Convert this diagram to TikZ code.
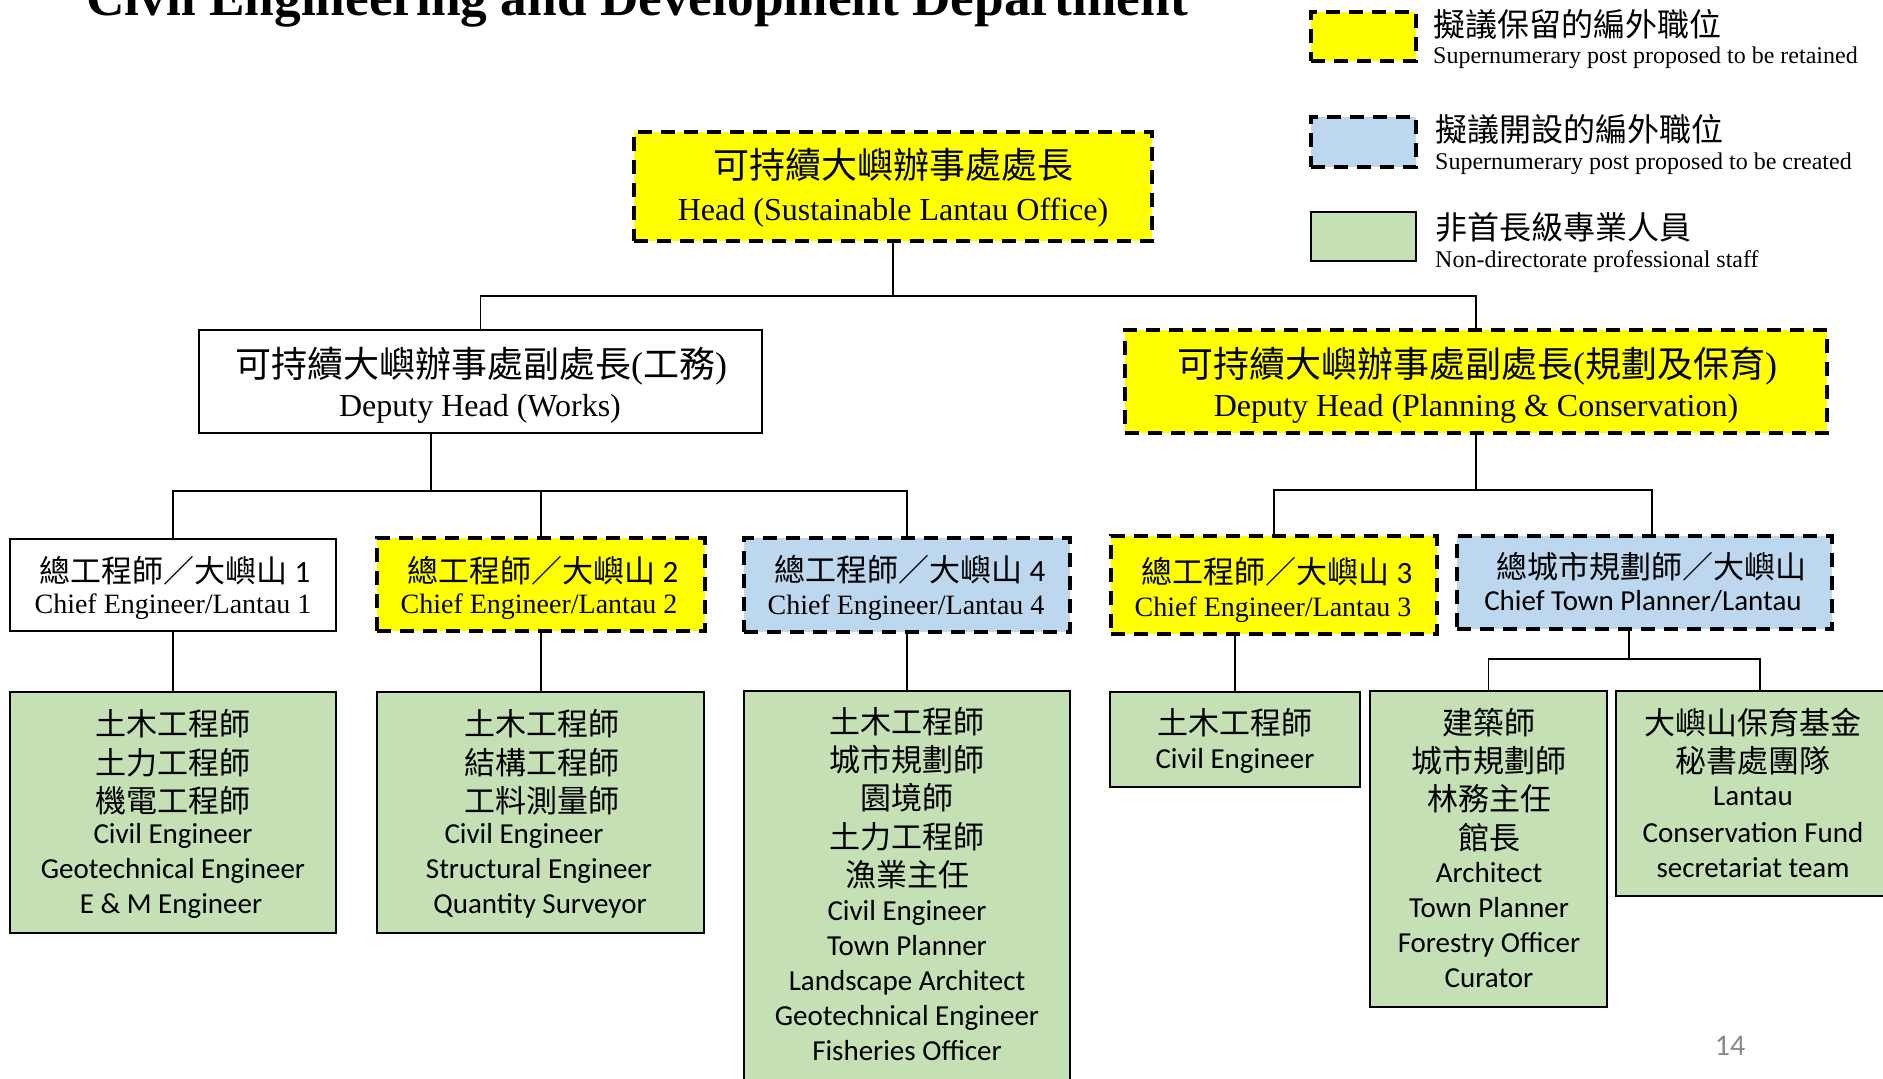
\documentclass[tikz,border=0pt]{standalone}
\usepackage{fontspec}
\setmainfont{Liberation Serif}
\newfontfamily\cjkfont{Noto Sans CJK TC}
\newfontfamily\calfont{Carlito}
\usetikzlibrary{fit}
\definecolor{yel}{RGB}{255,255,0}
\definecolor{blu}{RGB}{189,215,238}
\definecolor{grn}{RGB}{197,224,180}
\definecolor{pgnum}{RGB}{137,137,137}
\newcommand\lpar{{\rmfamily(}}
\newcommand\rpar{{\rmfamily)}}
\begin{document}
\begin{tikzpicture}[x=1pt,y=-1pt,
  box/.style={rectangle,inner sep=0pt,draw=black},
  solidbox/.style={box,line width=2pt},
  dashbox/.style={box,line width=4pt,dash pattern=on 14pt off 9pt},
  ret/.style={dashbox,fill=yel},
  cre/.style={dashbox,fill=blu},
  staff/.style={solidbox,fill=grn},
  plain/.style={solidbox,fill=white},
  txt/.style={inner sep=0pt,anchor=base},
  cjkA/.style={txt,font=\cjkfont\fontsize{36}{40}\selectfont},
  enA/.style={txt,font=\fontsize{32}{36}\selectfont},
  cjkB/.style={txt,font=\cjkfont\fontsize{31}{34}\selectfont},
  enB/.style={txt,font=\fontsize{28}{32}\selectfont},
  calB/.style={txt,font=\calfont\fontsize{29}{32}\selectfont},
  cjkL/.style={txt,anchor=base west,font=\cjkfont\fontsize{32}{36}\selectfont},
  enL/.style={txt,anchor=base west,font=\fontsize{24}{28}\selectfont},
  conn/.style={line width=1.5pt,draw=black},
]
\useasboundingbox (0,0) rectangle (1883,1079);
\clip (0,0) rectangle (1883,1079);
\fill[white] (0,0) rectangle (1883,1079);

% title
\node[txt,font=\fontsize{53.3}{60}\selectfont\bfseries] (title) at (637,15) {Civil Engineering and Development Department};

% legend
\node[ret, fit={(1311,12) (1416,61)}] (lret) {};
\node[cre, fit={(1311,117) (1416,167)}] (lcre) {};
\node[staff, fit={(1311,212) (1416,261)}] (lstaff) {};
\node[cjkL] (lret1) at (1433,36) {擬議保留的編外職位};
\node[enL] (lret2) at (1433,63) {Supernumerary post proposed to be retained};
\node[cjkL] (lcre1) at (1435,141) {擬議開設的編外職位};
\node[enL] (lcre2) at (1435,169) {Supernumerary post proposed to be created};
\node[cjkL] (lstaff1) at (1435,239) {非首長級專業人員};
\node[enL] (lstaff2) at (1435,267) {Non-directorate professional staff};

% boxes
\node[ret, fit={(634,132) (1152,241)}] (head) {};
\node[plain, fit={(199,330) (762,433)}] (dhw) {};
\node[ret, fit={(1125,330) (1827,433)}] (dhp) {};
\node[plain, fit={(10,539) (336,631)}] (ce1) {};
\node[ret, fit={(377,538) (705,631)}] (ce2) {};
\node[cre, fit={(744,538) (1070,632)}] (ce4) {};
\node[ret, fit={(1111,536) (1437,634)}] (ce3) {};
\node[cre, fit={(1457,536) (1832,629)}] (ctp) {};
\node[staff, fit={(10,692) (336,933)}] (g1) {};
\node[staff, fit={(377,692) (704,933)}] (g2) {};
\node[staff, fit={(744,691) (1070,1095)}] (g4) {};
\node[staff, fit={(1110,692) (1360,787)}] (g3) {};
\node[staff, fit={(1370,691) (1607,1007)}] (g5) {};
\node[staff, fit={(1616,691) (1892,896)}] (g6) {};

% connectors
\coordinate (j1) at (893,296);
\draw[conn] (head.south) -- (j1);
\draw[conn] (dhw.north) |- (j1) -| (dhp.north);
\coordinate (dhwb) at (431,433);
\coordinate (j2) at (431,491);
\draw[conn] (dhwb) -- (j2);
\draw[conn] (ce1.north) |- (j2) -| (ce4.north);
\draw[conn] (ce2.north) -- (ce2.north |- j2);
\draw[conn] (ce1.south) -- (g1.north);
\draw[conn] (ce2.south) -- (ce2.south |- g2.north);
\draw[conn] (ce4.south) -- (ce4.south |- g4.north);
\coordinate (j3) at (1476,490);
\draw[conn] (dhp.south) -- (j3);
\coordinate (ctpt) at (1652,536);
\draw[conn] (ce3.north) |- (j3) -| (ctpt);
\draw[conn] (g3.north) -- (g3.north |- ce3.south);
\coordinate (ctpb) at (1629,629);
\coordinate (j4) at (1629,659);
\coordinate (g6t) at (1760,691);
\draw[conn] (ctpb) -- (j4);
\draw[conn] (g5.north) |- (j4) -| (g6t);

% texts: top
\node[cjkA] (headcn) at (893,178) {可持續大嶼辦事處處長};
\node[enA] (headen) at (893,220) {Head (Sustainable Lantau Office)};
\node[cjkA] (dhwcn) at (481,377) {可持續大嶼辦事處副處長\lpar 工務\rpar};
\node[enA] (dhwen) at (480,416) {Deputy Head (Works)};
\node[cjkA] (dhpcn) at (1477,377) {可持續大嶼辦事處副處長\lpar 規劃及保育\rpar};
\node[enA] (dhpen) at (1476,416) {Deputy Head (Planning \& Conservation)};

% chief level
\node[cjkB] (ce1cn) at (175,582) {總工程師／大嶼山 {\calfont 1}};
\node[enB] (ce1en) at (173,613) {Chief Engineer/Lantau 1};
\node[cjkB] (ce2cn) at (543,582) {總工程師／大嶼山 {\calfont 2}};
\node[enB] (ce2en) at (539,613) {Chief Engineer/Lantau 2};
\node[cjkB] (ce4cn) at (910,581) {總工程師／大嶼山 {\calfont 4}};
\node[enB] (ce4en) at (906,614) {Chief Engineer/Lantau 4};
\node[cjkB] (ce3cn) at (1277,583) {總工程師／大嶼山 {\calfont 3}};
\node[enB] (ce3en) at (1273,616) {Chief Engineer/Lantau 3};
\node[cjkB] (ctpcn) at (1651,578) {總城市規劃師／大嶼山};
\node[calB] (ctpen) at (1643,610) {Chief Town Planner/Lantau};

% staff g1
\node[cjkB] (g1a) at (173,735) {土木工程師};
\node[cjkB] (g1b) at (173,774) {土力工程師};
\node[cjkB] (g1c) at (173,812) {機電工程師};
\node[calB] (g1d) at (173,843) {Civil Engineer};
\node[calB] (g1e) at (173,878) {Geotechnical Engineer};
\node[calB] (g1f) at (171,913) {E \& M Engineer};
% staff g2
\node[cjkB] (g2a) at (542,735) {土木工程師};
\node[cjkB] (g2b) at (542,774) {結構工程師};
\node[cjkB] (g2c) at (542,812) {工料測量師};
\node[calB] (g2d) at (524,843) {Civil Engineer};
\node[calB] (g2e) at (539,878) {Structural Engineer};
\node[calB] (g2f) at (540,913) {Quantity Surveyor};
% staff g4
\node[cjkB] (g4a) at (907,733) {土木工程師};
\node[cjkB] (g4b) at (907,771) {城市規劃師};
\node[cjkB] (g4c) at (907,809) {園境師};
\node[cjkB] (g4d) at (907,848) {土力工程師};
\node[cjkB] (g4e) at (907,886) {漁業主任};
\node[calB] (g4f) at (907,920) {Civil Engineer};
\node[calB] (g4g) at (907,955) {Town Planner};
\node[calB] (g4h) at (907,990) {Landscape Architect};
\node[calB] (g4i) at (907,1025) {Geotechnical Engineer};
\node[calB] (g4j) at (907,1060) {Fisheries Officer};
% staff g3
\node[cjkB] (g3a) at (1235,734) {土木工程師};
\node[calB] (g3b) at (1235,768) {Civil Engineer};
% staff g5
\node[cjkB] (g5a) at (1489,734) {建築師};
\node[cjkB] (g5b) at (1489,772) {城市規劃師};
\node[cjkB] (g5c) at (1489,810) {林務主任};
\node[cjkB] (g5d) at (1489,849) {館長};
\node[calB] (g5e) at (1489,882) {Architect};
\node[calB] (g5f) at (1489,917) {Town Planner};
\node[calB] (g5g) at (1489,952) {Forestry Officer};
\node[calB] (g5h) at (1489,987) {Curator};
% staff g6
\node[cjkB] (g6a) at (1753,734) {大嶼山保育基金};
\node[cjkB] (g6b) at (1753,772) {秘書處團隊};
\node[calB] (g6c) at (1753,805) {Lantau};
\node[calB] (g6d) at (1753,842) {Conservation Fund};
\node[calB] (g6e) at (1753,877) {secretariat team};

% page number
\node[txt,font=\calfont\fontsize{30}{34}\selectfont,text=pgnum] (pgno) at (1730,1055) {14};
\end{tikzpicture}
\end{document}
